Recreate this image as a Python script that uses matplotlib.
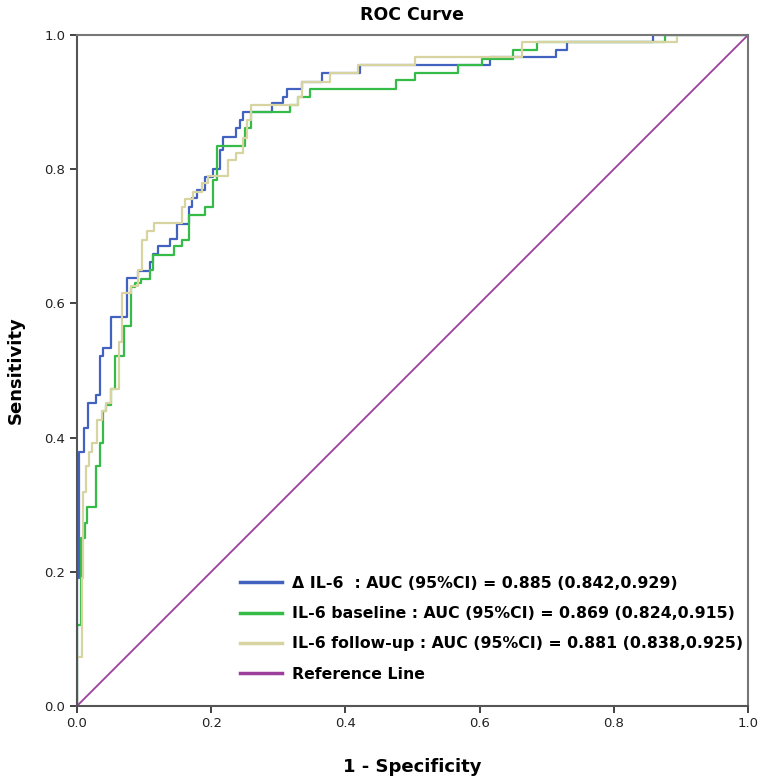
import matplotlib
matplotlib.use("Agg")
import matplotlib.pyplot as plt

# ROC points (1 - specificity, sensitivity)
delta_fpr = [0.0, 0.0, 0.003, 0.010, 0.016, 0.028, 0.034, 0.039, 0.051, 0.074,
             0.091, 0.109, 0.114, 0.121, 0.139, 0.149, 0.167, 0.172, 0.179, 0.191,
             0.202, 0.213, 0.218, 0.237, 0.243, 0.247, 0.290, 0.307, 0.313, 0.335,
             0.365, 0.422, 0.616, 0.714, 0.731, 0.859, 1.0]
delta_tpr = [0.0, 0.191, 0.379, 0.414, 0.451, 0.463, 0.521, 0.533, 0.580, 0.638,
             0.649, 0.661, 0.674, 0.685, 0.696, 0.719, 0.744, 0.757, 0.769, 0.788,
             0.801, 0.829, 0.848, 0.861, 0.873, 0.886, 0.898, 0.908, 0.919, 0.930,
             0.943, 0.955, 0.967, 0.978, 0.990, 1.0, 1.0]

base_fpr = [0.0, 0.0, 0.006, 0.012, 0.015, 0.028, 0.034, 0.039, 0.044, 0.050,
            0.057, 0.070, 0.080, 0.086, 0.096, 0.109, 0.114, 0.144, 0.156, 0.167,
            0.191, 0.203, 0.209, 0.250, 0.260, 0.317, 0.329, 0.347, 0.475, 0.504,
            0.568, 0.603, 0.650, 0.685, 0.876, 1.0]
base_tpr = [0.0, 0.121, 0.250, 0.272, 0.297, 0.357, 0.392, 0.439, 0.449, 0.473,
            0.521, 0.566, 0.625, 0.630, 0.637, 0.650, 0.672, 0.685, 0.695, 0.732,
            0.744, 0.784, 0.835, 0.861, 0.886, 0.896, 0.908, 0.919, 0.933, 0.943,
            0.955, 0.965, 0.978, 0.990, 1.0, 1.0]

follow_fpr = [0.0, 0.0, 0.007, 0.009, 0.013, 0.018, 0.023, 0.030, 0.037, 0.044,
              0.050, 0.062, 0.067, 0.080, 0.091, 0.097, 0.104, 0.115, 0.156, 0.161,
              0.173, 0.186, 0.195, 0.225, 0.237, 0.248, 0.253, 0.260, 0.329, 0.335,
              0.377, 0.419, 0.504, 0.663, 0.894, 1.0]
follow_tpr = [0.0, 0.073, 0.191, 0.319, 0.357, 0.379, 0.392, 0.426, 0.439, 0.451,
              0.473, 0.543, 0.615, 0.626, 0.650, 0.695, 0.708, 0.720, 0.743, 0.756,
              0.766, 0.779, 0.790, 0.814, 0.824, 0.846, 0.873, 0.896, 0.908, 0.930,
              0.944, 0.955, 0.968, 0.990, 1.0, 1.0]

ref_x = [0.0, 1.0]
ref_y = [0.0, 1.0]

labels = [
    "\u0394 IL-6  : AUC (95%CI) = 0.885 (0.842,0.929)",
    "IL-6 baseline : AUC (95%CI) = 0.869 (0.824,0.915)",
    "IL-6 follow-up : AUC (95%CI) = 0.881 (0.838,0.925)",
    "Reference Line",
]
ticks = [0.0, 0.2, 0.4, 0.6, 0.8, 1.0]

CLR_DELTA = "#4262c0"
CLR_BASE = "#34bb48"
CLR_FOLLOW = "#d8d4a2"
CLR_REF = "#9c3f9c"

fig = plt.figure(figsize=(7.62, 7.82), dpi=100)
ax = fig.add_axes([0.101, 0.0972, 0.8806, 0.858])

ax.plot(delta_fpr, delta_tpr, drawstyle="steps-post", color=CLR_DELTA, lw=1.6, label=labels[0])
ax.plot(base_fpr, base_tpr, drawstyle="steps-post", color=CLR_BASE, lw=1.6, label=labels[1])
ax.plot(follow_fpr, follow_tpr, drawstyle="steps-post", color=CLR_FOLLOW, lw=1.6, label=labels[2])
ax.plot(ref_x, ref_y, color=CLR_REF, lw=1.3, label=labels[3])

ax.set_xlim(0, 1)
ax.set_ylim(0, 1)
ax.set_xticks(ticks)
ax.set_yticks(ticks)
ax.set_xticklabels([f"{t:.1f}" for t in ticks])
ax.set_yticklabels([f"{t:.1f}" for t in ticks])
ax.tick_params(direction="out", length=5, width=1.2, labelsize=9.5, colors="#222222")
ax.tick_params(axis="x", pad=3)

for name, sp in ax.spines.items():
    sp.set_linewidth(1.5)
    sp.set_color("#555555" if name in ("left", "bottom") else "#777777")

ax.set_title("ROC Curve", fontsize=12.5, fontweight="bold", pad=11)
ax.set_xlabel("1 - Specificity", fontsize=13, fontweight="bold", labelpad=20)
ax.set_ylabel("Sensitivity", fontsize=13, fontweight="bold", labelpad=14)

leg = ax.legend(loc="lower left", bbox_to_anchor=(0.222, 0.015), frameon=False,
                prop={"weight": "bold", "size": 11.3}, handlelength=2.7,
                handletextpad=0.6, labelspacing=0.98)
for line in leg.get_lines():
    line.set_linewidth(2.5)

fig.savefig("out.png", dpi=100, facecolor="white")
